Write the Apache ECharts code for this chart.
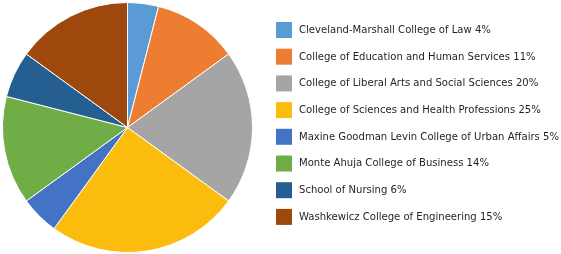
<!DOCTYPE html>
<html><head><meta charset="utf-8">
<script src="https://cdn.jsdelivr.net/npm/echarts@6/dist/echarts.min.js"></script>
<style>html,body{margin:0;padding:0;background:#fff}#c{width:561px;height:254px}</style>
</head><body><div id="c"></div>
<script>
const categories = [
  'Cleveland-Marshall College of Law',
  'College of Education and Human Services',
  'College of Liberal Arts and Social Sciences',
  'College of Sciences and Health Professions',
  'Maxine Goodman Levin College of Urban Affairs',
  'Monte Ahuja College of Business',
  'School of Nursing',
  'Washkewicz College of Engineering'
];
const values = [4, 11, 20, 25, 5, 14, 6, 15];
const colors = ['#5b9bd5', '#ed7d31', '#a5a5a5', '#fbbc0e', '#4472c4', '#70ad47', '#255e91', '#9e480e'];

const chart = echarts.init(document.getElementById('c'), null, {renderer: 'canvas'});
chart.setOption({
  animation: false,
  color: colors,
  legend: {
    orient: 'vertical',
    left: 271,
    top: 17,
    itemWidth: 16,
    itemHeight: 16,
    itemGap: 10.7,
    icon: 'rect',
    selectedMode: false,
    itemStyle: {borderWidth: 0},
    formatter: function (name) {
      const i = categories.indexOf(name);
      return name + ' ' + values[i] + '%';
    },
    textStyle: {
      fontFamily: '"DejaVu Sans Condensed", sans-serif',
      fontSize: 11.2,
      lineHeight: 16,
      color: '#231f20',
      padding: [0, 0, 0, 2]
    }
  },
  series: [{
    type: 'pie',
    center: [127.5, 127.5],
    radius: 125,
    startAngle: 90,
    clockwise: true,
    label: {show: false},
    labelLine: {show: false},
    silent: true,
    itemStyle: {borderColor: '#ffffff', borderWidth: 1},
    data: categories.map((c, i) => ({name: c, value: values[i]}))
  }]
});
</script>
</body></html>
